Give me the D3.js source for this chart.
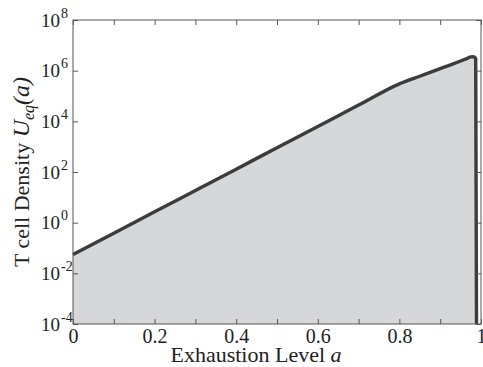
<!DOCTYPE html>
<html>
<head>
  <meta charset="utf-8">
  <title>T cell density vs exhaustion</title>
  <script src="https://d3js.org/d3.v7.min.js"></script>
  <style>
    body { margin: 0; background: #fff; }
    svg text { font-family: "Liberation Serif", "Times New Roman", serif; fill: #222; }
    .axis .domain { display: none; }
    .axis .tick line { stroke: #555; }
  </style>
</head>
<body>
  <div id="chart"></div>
  <script>
    // exhaustion level a
    const aVals = [0, 0.1, 0.2, 0.3, 0.4, 0.5, 0.6, 0.7, 0.8, 0.85, 0.9, 0.93, 0.95, 0.965, 0.975, 0.982, 0.987, 0.989]
    // equilibrium density U_eq(a)
    const uVals = [0.055, 0.380, 2.69, 18.6, 129, 912, 6310, 43700, 302000, 603000, 1.2e6, 1.8e6, 2.4e6, 3.0e6, 3.5e6, 3.55e6, 3.02e6, 1e-4]
    const xTicks = [0, 0.1, 0.2, 0.3, 0.4, 0.5, 0.6, 0.7, 0.8, 0.9, 1]
    const xLabels = ['0', '', '0.2', '', '0.4', '', '0.6', '', '0.8', '', '1']
    const yTicks = [1e-4, 1e-2, 1, 1e2, 1e4, 1e6, 1e8]
    const yExps = ['-4', '-2', '0', '2', '4', '6', '8']

    const W = 483, H = 367
    const margin = { left: 73, right: 2, top: 20, bottom: 43 }
    const width = W - margin.left - margin.right
    const height = H - margin.top - margin.bottom

    const svg = d3.select('#chart').append('svg')
      .attr('width', W)
      .attr('height', H)

    const chart = svg.append('g')
      .attr('transform', `translate(${margin.left},${margin.top})`)

    const xScale = d3.scaleLinear().domain([0, 1]).range([0, width])
    const yScale = d3.scaleLog().domain([1e-4, 1e8]).range([height, 0])

    const pts = aVals.map((a, i) => ({ a: a, u: uVals[i] }))

    // filled area under curve
    const area = d3.area()
      .x(d => xScale(d.a))
      .y0(height)
      .y1(d => yScale(d.u))
      .curve(d3.curveMonotoneX)
    chart.append('path')
      .datum(pts)
      .attr('d', area)
      .attr('fill', '#d6d7d9')

    const line = d3.line()
      .x(d => xScale(d.a))
      .y(d => yScale(d.u))
      .curve(d3.curveMonotoneX)
    chart.append('path')
      .datum(pts)
      .attr('d', line)
      .attr('fill', 'none')
      .attr('stroke', '#3c3c3c')
      .attr('stroke-width', 3.4)
      .attr('stroke-linejoin', 'round')

    // box
    chart.append('rect')
      .attr('width', width)
      .attr('height', height)
      .attr('fill', 'none')
      .attr('stroke', '#555')
      .attr('stroke-width', 1)

    // x axes (ticks inward, top mirrored)
    chart.append('g')
      .attr('class', 'axis')
      .attr('transform', `translate(0,${height})`)
      .call(d3.axisBottom(xScale).tickValues(xTicks).tickSize(-5)
        .tickFormat((d, i) => xLabels[i]))
      .call(g => g.selectAll('.tick text').attr('font-size', 20).attr('y', 19).attr('dy', 0))
    chart.append('g')
      .attr('class', 'axis')
      .call(d3.axisTop(xScale).tickValues(xTicks).tickSize(-5).tickFormat(''))

    // y axes
    chart.append('g')
      .attr('class', 'axis')
      .call(d3.axisLeft(yScale).tickValues(yTicks).tickSize(-5).tickFormat(''))
      .call(g => g.selectAll('.tick').append('text')
        .attr('x', -32)
        .attr('y', 6)
        .attr('text-anchor', 'start')
        .attr('font-size', 19)
        .each(function(d, i) {
          const t = d3.select(this)
          t.append('tspan').text('10')
          t.append('tspan').attr('dy', -9).attr('dx', 1).attr('font-size', 14).text(yExps[i])
        }))
    chart.append('g')
      .attr('class', 'axis')
      .attr('transform', `translate(${width},0)`)
      .call(d3.axisRight(yScale).tickValues(yTicks).tickSize(-5).tickFormat(''))

    // x title
    const xt = svg.append('text')
      .attr('x', 256)
      .attr('y', 362)
      .attr('text-anchor', 'middle')
      .attr('font-size', 22)
    xt.append('tspan').text('Exhaustion Level ')
    xt.append('tspan').attr('font-style', 'italic').text('a')

    // y title
    const yt = svg.append('text')
      .attr('transform', 'translate(29,172) rotate(-90)')
      .attr('text-anchor', 'middle')
      .attr('font-size', 22)
    yt.append('tspan').text('T cell Density ')
    yt.append('tspan').attr('font-style', 'italic').attr('font-size', 24).text('U')
    yt.append('tspan').attr('font-style', 'italic').attr('font-size', 16).attr('dy', 5).text('eq')
    yt.append('tspan').attr('font-style', 'italic').attr('font-size', 24).attr('dy', -5).text('(a)')
  </script>
</body>
</html>
